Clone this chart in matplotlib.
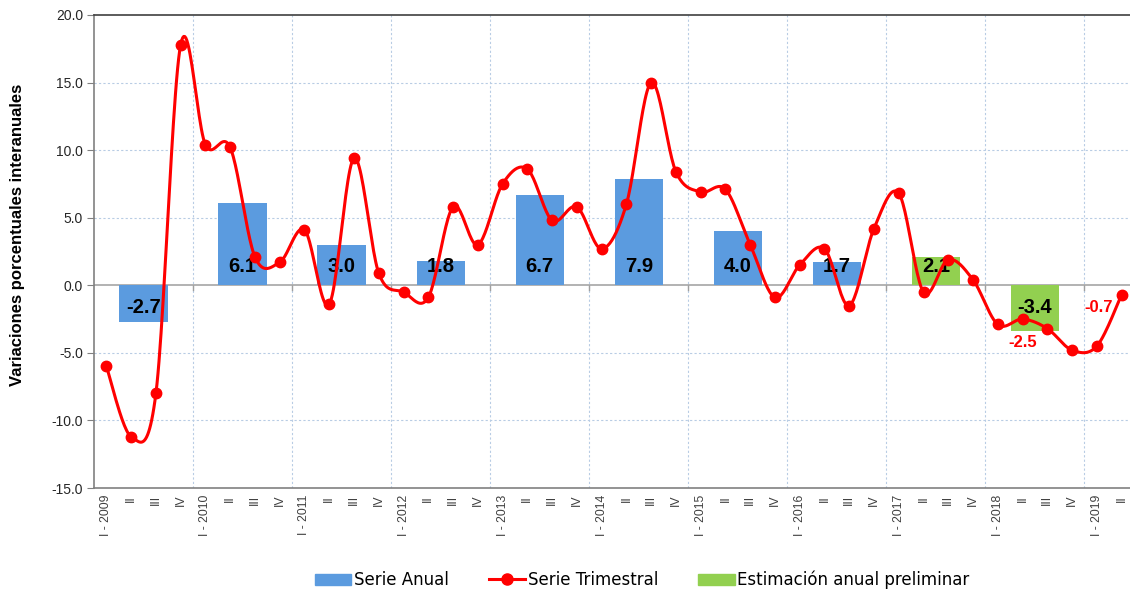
import numpy as np
import matplotlib
matplotlib.use("Agg")
import matplotlib.pyplot as plt
from matplotlib.patches import Patch
from matplotlib.lines import Line2D

# --- data ---
years = list(range(2009, 2020))
quarter_names = ["I", "II", "III", "IV"]
quarterly = [-6.0, -11.2, -8.0, 17.8,
             10.4, 10.2, 2.1, 1.7,
             4.1, -1.4, 9.4, 0.9,
             -0.5, -0.9, 5.8, 3.0,
             7.5, 8.6, 4.8, 5.8,
             2.7, 6.0, 15.0, 8.4,
             6.9, 7.1, 3.0, -0.9,
             1.5, 2.7, -1.5, 4.2,
             6.8, -0.5, 1.9, 0.4,
             -2.9, -2.5, -3.2, -4.8,
             -4.5, -0.7]
annual_years = [2009, 2010, 2011, 2012, 2013, 2014, 2015, 2016, 2017, 2018]
annual = [-2.7, 6.1, 3.0, 1.8, 6.7, 7.9, 4.0, 1.7, 2.1, -3.4]
preliminary = [False] * 8 + [True, True]

tick_labels = []
for y in years:
    for q in quarter_names:
        tick_labels.append(f"I - {y}" if q == "I" else q)
tick_labels = tick_labels[:len(quarterly)]

BLUE = "#5B9BDF"
GREEN = "#92D050"
RED = "#FF0000"
GRID = "#B8CCE4"
ARIAL = ["Liberation Sans", "DejaVu Sans"]

fig = plt.figure(figsize=(11.3, 5.92), dpi=100)
ax = fig.add_axes([94 / 1130, 104 / 592, 1040 / 1130, 473 / 592])

n = len(quarterly)
x = np.arange(n)
ax.set_xlim(-0.5, n - 0.5)
ax.set_ylim(-15, 20)

# annual bars, centred between II and III of each year
bx = [(yr - 2009) * 4 + 1.5 for yr in annual_years]
colors = [GREEN if p else BLUE for p in preliminary]
ax.bar(bx, annual, width=1.95, color=colors, zorder=2)

for xi, v in zip(bx, annual):
    if v >= 0:
        ax.annotate(f"{v:.1f}", (xi, 0), xytext=(0, 7), textcoords="offset points",
                    ha="center", va="bottom", fontsize=14.5, fontweight="bold",
                    family=ARIAL, zorder=3)
    else:
        ax.annotate(f"{v:.1f}", (xi, 0), xytext=(0, -9), textcoords="offset points",
                    ha="center", va="top", fontsize=14.5, fontweight="bold",
                    family=ARIAL, zorder=3)

# smoothed quarterly line (Catmull-Rom in screen-like units)
sx, sy = 24.75, 13.51
P = np.column_stack([x * sx, np.array(quarterly) * sy])
Pp = np.vstack([P[0], P, P[-1]])
curve = []
for i in range(n - 1):
    p0, p1, p2, p3 = Pp[i], Pp[i + 1], Pp[i + 2], Pp[i + 3]
    c1 = p1 + (p2 - p0) / 6
    c2 = p2 - (p3 - p1) / 6
    t = np.linspace(0, 1, 25)[:, None]
    seg = (1 - t) ** 3 * p1 + 3 * (1 - t) ** 2 * t * c1 + 3 * (1 - t) * t ** 2 * c2 + t ** 3 * p2
    curve.append(seg if i == 0 else seg[1:])
curve = np.vstack(curve)
ax.plot(curve[:, 0] / sx, curve[:, 1] / sy, color=RED, lw=2.2, zorder=4)
ax.plot(x, quarterly, "o", color=RED, ms=7.5, zorder=5)

# red labels on the last quarters
ax.annotate(f"{quarterly[37]:.1f}", (37, quarterly[37]), xytext=(0, -17), textcoords="offset points",
            ha="center", va="center", color=RED, fontsize=12, fontweight="bold",
            family=ARIAL, zorder=6)
ax.annotate(f"{quarterly[41]:.1f}", (41, quarterly[41]), xytext=(-6, -9), textcoords="offset points",
            ha="right", va="center", color=RED, fontsize=12, fontweight="bold",
            family=ARIAL, zorder=6)

# grid
ax.set_yticks(np.arange(-15, 20.1, 5))
ax.set_yticklabels([f"{v:.1f}" for v in np.arange(-15, 20.1, 5)],
                   fontsize=10, family=ARIAL, color="#262626")
for v in np.arange(-10, 20, 5):
    if v != 0:
        ax.axhline(v, color=GRID, lw=0.8, ls=(0, (2, 2)), zorder=0)
for k in range(4, n, 4):
    ax.axvline(k - 0.5, color=GRID, lw=0.8, ls=(0, (2, 2)), zorder=0)
    ax.plot([k - 0.5, k - 0.5], [0, -0.35], color="#A0A0A0", lw=1, zorder=1)
ax.axhline(0, color="#A6A6A6", lw=1.2, zorder=1)

ax.set_xticks(x)
ax.set_xticklabels(tick_labels, rotation=90, fontsize=8.8, family=ARIAL, color="#404040")
ax.tick_params(axis="x", length=0, pad=5)
ax.tick_params(axis="y", length=5, color="#808080", pad=3)

for s in ["left", "bottom"]:
    ax.spines[s].set_color("#808080")
    ax.spines[s].set_linewidth(1.2)
ax.spines["top"].set_color("#404040")
ax.spines["top"].set_linewidth(1.2)
ax.spines["right"].set_visible(False)

fig.text(18 / 1130, 1 - 235 / 592, "Variaciones porcentuales interanuales", rotation=90,
         ha="center", va="center", fontsize=12, fontweight="bold", family=ARIAL)

handles = [Patch(color=BLUE),
           Line2D([0], [0], color=RED, lw=2.2, marker="o", ms=8),
           Patch(color=GREEN)]
labels = ["Serie Anual", "Serie Trimestral", "Estimación anual preliminar"]
fig.legend(handles, labels, loc="center", bbox_to_anchor=(642 / 1130, 12 / 592), ncol=3,
           frameon=False, prop={"family": "DejaVu Sans", "size": 12},
           handlelength=2.2, handletextpad=0.15, columnspacing=2.4)

fig.savefig("out.png", dpi=100)
